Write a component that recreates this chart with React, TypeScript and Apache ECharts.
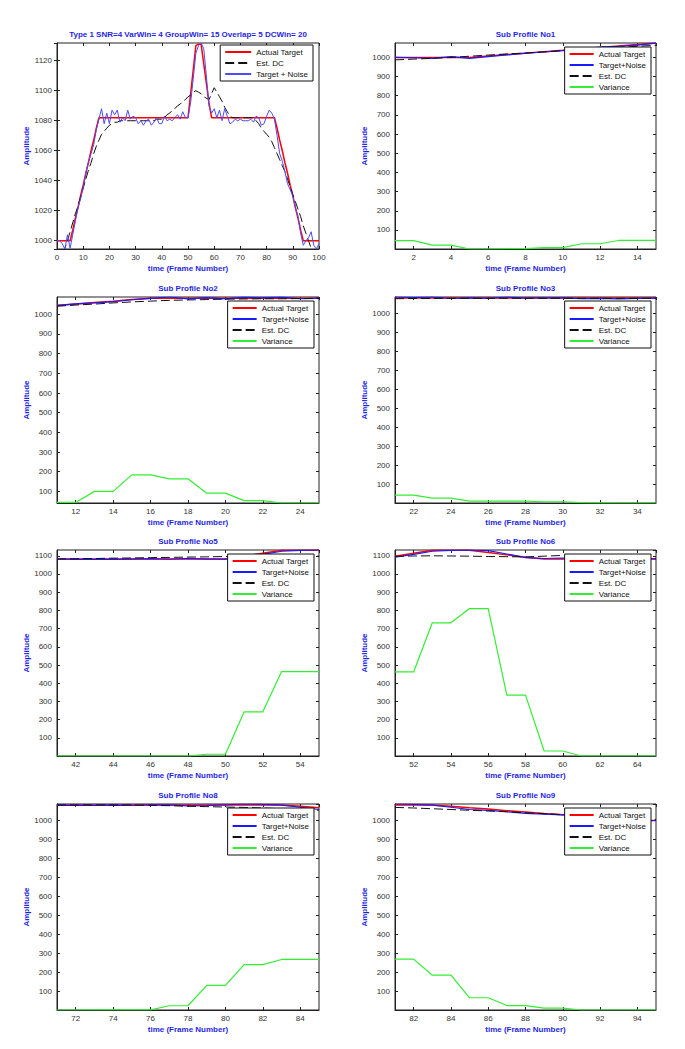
import React, { useEffect, useRef } from 'react';
import * as echarts from 'echarts';

// ---------------- data ----------------
const frames = Array.from({ length: 101 }, (_, i) => i);

const actualTarget = [
  1000, 1000, 1000, 1000, 1000, 1000, 1007, 1015, 1022, 1030,
  1037, 1045, 1052, 1060, 1067, 1075, 1082, 1082, 1082, 1082,
  1082, 1082, 1082, 1082, 1082, 1082, 1082, 1082, 1082, 1082,
  1082, 1082, 1082, 1082, 1082, 1082, 1082, 1082, 1082, 1082,
  1082, 1082, 1082, 1082, 1082, 1082, 1082, 1082, 1082, 1082,
  1082, 1098, 1114, 1130, 1131, 1131, 1118, 1105, 1092, 1082,
  1082, 1082, 1082, 1082, 1082, 1082, 1082, 1082, 1082, 1082,
  1082, 1082, 1082, 1082, 1082, 1082, 1082, 1082, 1082, 1082,
  1082, 1082, 1082, 1082, 1075, 1067, 1060, 1052, 1045, 1037,
  1030, 1022, 1015, 1007, 1000, 1000, 1000, 1000, 1000, 1000,
  1000,
];

const targetNoise = [
  1000, 1000, 998, 994.5, 1004, 995, 1004, 1013, 1022, 1028,
  1035, 1045, 1053, 1058, 1064, 1074, 1081, 1088, 1078, 1085,
  1078, 1087, 1084, 1087, 1079, 1082, 1080, 1087, 1081, 1083,
  1082, 1078, 1080, 1077, 1080, 1081, 1077, 1079, 1082, 1078,
  1078, 1083, 1080, 1081, 1080, 1082, 1084, 1081, 1086, 1082,
  1082, 1092, 1108, 1125, 1130, 1131.8, 1128, 1110, 1090, 1085,
  1088, 1082, 1087, 1080, 1088, 1083, 1078, 1079, 1081, 1080,
  1081, 1080, 1080, 1080, 1081, 1079, 1083, 1082, 1077, 1078,
  1083, 1087, 1085, 1081, 1070, 1058, 1053, 1046, 1038, 1034,
  1030, 1022, 1016, 1005, 997, 1000, 1002, 1006, 997, 994.5,
  998,
];

const estDC = [
  984, 987, 991, 995, 1000, 1006, 1012, 1018, 1023, 1029,
  1035, 1041, 1047, 1052, 1058, 1063, 1067, 1071, 1073, 1075,
  1077, 1078, 1079, 1079, 1080, 1080, 1080, 1080, 1080, 1080,
  1080, 1080, 1080, 1080, 1080, 1080, 1080, 1080, 1081, 1081,
  1081, 1082, 1084, 1085, 1087, 1088, 1090, 1091, 1093, 1094,
  1096, 1097, 1099, 1100, 1099, 1098, 1096, 1095, 1094, 1098,
  1102, 1099, 1096, 1093, 1089, 1086, 1083, 1082, 1082, 1082,
  1082, 1082, 1082, 1082, 1082, 1082, 1080, 1078, 1075, 1073,
  1071, 1069, 1066, 1062, 1058, 1054, 1050, 1046, 1041, 1036,
  1031, 1026, 1021, 1016, 1010, 1005, 1000, 995, 990, 986,
  982,
];

const subTitles = [
  'Sub Profile No1', 'Sub Profile No2', 'Sub Profile No3', 'Sub Profile No5',
  'Sub Profile No6', 'Sub Profile No8', 'Sub Profile No9',
];
const subStarts = [1, 11, 21, 41, 51, 71, 81];

const varNo1 = [44, 44, 21, 21, 0.5, 0.5, 2, 2, 8, 8, 28, 28, 45, 45, 45];
const varNo2 = [44, 44, 100, 100, 184, 184, 164, 164, 91, 91, 53, 53, 41, 41, 41];
const varNo3 = [42, 42, 26, 26, 10, 10, 10, 10, 7, 7, 2, 1, 0.5, 0.5, 0.5];
const varNo5 = [0.5, 0.5, 0.5, 0.5, 0.5, 0.5, 0.5, 0.5, 10, 10, 243, 243, 464, 464, 464];
const varNo6 = [462, 462, 732, 732, 810, 810, 335, 335, 28, 28, 0.5, 0.5, 0.5, 0.5, 0.5];
const varNo8 = [0.5, 0.5, 1.5, 1.5, 1.5, 1.5, 23, 23, 130, 130, 240, 240, 267, 267, 267];
const varNo9 = [269, 269, 184, 184, 65, 65, 24, 24, 10, 10, 0.5, 0.5, 0.5, 0.5, 0.5];
const variances = [varNo1, varNo2, varNo3, varNo5, varNo6, varNo8, varNo9];

const mainTitle = 'Type 1 SNR=4 VarWin= 4 GroupWin= 15 Overlap= 5 DCWin= 20';
const xName = 'time (Frame Number)';
const yName = 'Amplitude';

// ---------------- styling / layout ----------------
const FONT = "'Liberation Sans', Arial, Helvetica, sans-serif";
const BLUE_TXT = '#1f1fe6';
const colLeft = [57, 395];
const colWidth = [262, 261];
const rowTop = [43, 297, 550, 804];
const plotH = 206;
const PAGE_W = 685;

function pairs(xs: number[], ys: number[]) {
  return xs.map((x, i) => [x, ys[i]]);
}

const plain = (v: number) => String(Math.round(v));

function buildOption() {
  const grid: any[] = [];
  const xAxis: any[] = [];
  const yAxis: any[] = [];
  const xMirror: any[] = [];
  const yMirror: any[] = [];
  const series: any[] = [];
  const legend: any[] = [];
  const graphic: any[] = [];

  const axisCommon = (isX: boolean) => ({
    axisLine: { show: true, onZero: false, lineStyle: { color: '#222', width: 1 } },
    axisTick: { show: true, inside: true, length: 3, lineStyle: { color: '#222' } },
    splitLine: { show: false },
    nameLocation: 'middle',
    nameTextStyle: { color: BLUE_TXT, fontWeight: 'bold', fontSize: 8, fontFamily: FONT },
    axisLabel: { fontSize: 8, color: '#333', fontFamily: FONT, margin: isX ? 4 : 5, formatter: plain },
  });

  const mirror = (ax: any, pos: string) => ({
    gridIndex: ax.gridIndex, type: 'value', position: pos,
    min: ax.min, max: ax.max, interval: ax.interval,
    minInterval: ax.minInterval, maxInterval: ax.maxInterval,
    axisLine: { show: false },
    axisTick: { show: true, inside: true, length: 3, lineStyle: { color: '#222' } },
    axisLabel: { show: false },
    splitLine: { show: false },
  });

  const legendCommon = {
    orient: 'vertical',
    itemHeight: 9, itemGap: 3,
    padding: [3, 5, 3, 4],
    borderColor: '#111', borderWidth: 1, backgroundColor: '#fff',
    textStyle: { fontSize: 8, color: '#111', fontFamily: FONT },
    itemStyle: { opacity: 0 },
    selectedMode: false,
  };

  for (let p = 0; p < 8; p++) {
    const row = Math.floor(p / 2);
    const col = p % 2;
    const left = colLeft[col];
    const width = colWidth[col];
    const top = rowTop[row];
    grid.push({
      left, top, width, height: plotH,
      show: true, borderColor: '#222', borderWidth: 1, backgroundColor: '#fff',
      containLabel: false,
    });
    const title = p === 0 ? mainTitle : subTitles[p - 1];
    graphic.push({
      type: 'text',
      x: left + width / 2,
      y: top - 9,
      style: {
        text: title,
        fill: BLUE_TXT,
        font: `bold 8px ${FONT}`,
        align: 'center',
        verticalAlign: 'middle',
        textAlign: 'center',
        textVerticalAlign: 'middle',
      },
    });

    if (p === 0) {
      const ys = targetNoise;
      const ymin = Math.min(...ys);
      const ymax = Math.max(...ys);
      const xc = axisCommon(true);
      const xa = {
        ...xc, gridIndex: 0, type: 'value', min: 0, max: 100, interval: 10,
        name: xName, nameGap: 15,
      };
      const yc = axisCommon(false);
      const ya = {
        ...yc, gridIndex: 0, type: 'value', min: ymin, max: ymax,
        minInterval: 20, maxInterval: 20,
        name: yName, nameGap: 23, nameRotate: 90,
        axisLabel: { ...yc.axisLabel, showMinLabel: false, showMaxLabel: false },
      };
      xAxis.push(xa); yAxis.push(ya);
      xMirror.push(mirror(xa, 'top')); yMirror.push(mirror(ya, 'right'));
      series.push({
        name: 'Actual Target', type: 'line', xAxisIndex: 0, yAxisIndex: 0,
        data: pairs(frames, actualTarget), symbol: 'none',
        lineStyle: { color: '#ff0000', width: 1.5 }, itemStyle: { color: '#ff0000' },
      });
      series.push({
        name: 'Est. DC', type: 'line', xAxisIndex: 0, yAxisIndex: 0,
        data: pairs(frames, estDC), symbol: 'none',
        lineStyle: { color: '#111', width: 1, type: [9, 4] }, itemStyle: { color: '#111' },
      });
      series.push({
        name: 'Target + Noise', type: 'line', xAxisIndex: 0, yAxisIndex: 0,
        data: pairs(frames, targetNoise), symbol: 'none',
        lineStyle: { color: '#4b4bff', width: 1 }, itemStyle: { color: '#4b4bff' },
      });
      legend.push({
        ...legendCommon,
        data: ['Actual Target', 'Est. DC', 'Target + Noise'],
        right: PAGE_W - (left + width - 6),
        top: top + 2,
        itemWidth: 26,
      });
    } else {
      const i = p - 1;
      const s = subStarts[i];
      const xs = frames.slice(s, s + 15);
      const at = actualTarget.slice(s, s + 15);
      const tn = targetNoise.slice(s, s + 15);
      const dc = estDC.slice(s, s + 15);
      const vr = variances[i];
      const all = [...at, ...tn, ...dc, ...vr];
      const ymin = Math.min(...all);
      const ymax = Math.max(...all);
      const xc = axisCommon(true);
      const xa = {
        ...xc, gridIndex: p, type: 'value', min: s, max: s + 14,
        minInterval: 2, maxInterval: 2,
        name: xName, nameGap: 15,
        axisLabel: { ...xc.axisLabel, showMinLabel: false, showMaxLabel: false },
      };
      const yc = axisCommon(false);
      const ya = {
        ...yc, gridIndex: p, type: 'value', min: ymin, max: ymax,
        minInterval: 100, maxInterval: 100,
        name: yName, nameGap: 23, nameRotate: 90,
        axisLabel: { ...yc.axisLabel, showMinLabel: false, showMaxLabel: false },
      };
      xAxis.push(xa); yAxis.push(ya);
      xMirror.push(mirror(xa, 'top')); yMirror.push(mirror(ya, 'right'));
      series.push({
        name: 'Actual Target', type: 'line', xAxisIndex: p, yAxisIndex: p,
        data: pairs(xs, at), symbol: 'none',
        lineStyle: { color: '#ff0000', width: 1.5 }, itemStyle: { color: '#ff0000' },
      });
      series.push({
        name: 'Target+Noise', type: 'line', xAxisIndex: p, yAxisIndex: p,
        data: pairs(xs, tn), symbol: 'none',
        lineStyle: { color: '#1a1aff', width: 1.2 }, itemStyle: { color: '#1a1aff' },
      });
      series.push({
        name: 'Est. DC', type: 'line', xAxisIndex: p, yAxisIndex: p,
        data: pairs(xs, dc), symbol: 'none',
        lineStyle: { color: '#111', width: 1, type: [9, 4] }, itemStyle: { color: '#111' },
      });
      series.push({
        name: 'Variance', type: 'line', xAxisIndex: p, yAxisIndex: p,
        data: pairs(xs, vr), symbol: 'none',
        lineStyle: { color: '#33ee33', width: 1.2 }, itemStyle: { color: '#33ee33' },
      });
      legend.push({
        ...legendCommon,
        data: ['Actual Target', 'Target+Noise', 'Est. DC', 'Variance'],
        right: PAGE_W - (left + width - 5),
        top: top + 4,
        itemWidth: 24,
      });
    }
  }

  return {
    animation: false,
    backgroundColor: '#fff',
    textStyle: { fontFamily: FONT },
    grid,
    xAxis: [...xAxis, ...xMirror],
    yAxis: [...yAxis, ...yMirror],
    series, legend, graphic,
  };
}

export default function App() {
  const ref = useRef<HTMLDivElement>(null);
  useEffect(() => {
    if (!ref.current) return;
    const chart = echarts.init(ref.current, undefined, { renderer: 'svg' });
    chart.setOption(buildOption() as any);
    return () => chart.dispose();
  }, []);
  return (
    <div
      ref={ref}
      style={{ position: 'absolute', left: 0, top: 0, width: 685, height: 1049, background: '#fff' }}
    />
  );
}
